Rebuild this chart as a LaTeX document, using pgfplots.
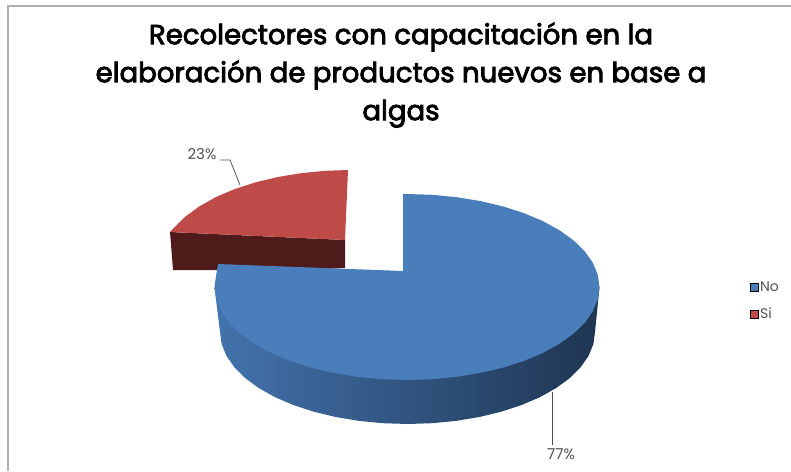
\documentclass[border=0pt]{standalone}
\usepackage{pgfplots}
\pgfplotsset{compat=1.18}
\usepackage{fontspec}
\setmainfont{Poppins}
\newfontfamily\titlefont[FakeBold=3]{Poppins}
\definecolor{noTop}{HTML}{4A7EBB}
\definecolor{noSideA}{HTML}{4373AD}
\definecolor{noSideB}{HTML}{2B4C74}
\definecolor{noSideC}{HTML}{1F3552}
\definecolor{siTop}{HTML}{BE4B48}
\definecolor{siSide}{HTML}{4E1B1A}
\definecolor{frame}{HTML}{B0B0B0}
\definecolor{lbl}{HTML}{505050}
\begin{document}
\begin{tikzpicture}
\begin{axis}[
  name=chart,
  scale only axis, width=791pt, height=471pt,
  xmin=0, xmax=791, ymin=0, ymax=471, y dir=reverse,
  hide axis, clip=true,
  legend image code/.code={\fill[#1] (0pt,-4pt) rectangle (8pt,4pt);},
  legend style={draw=none, fill=none, at={(axis cs:750,280)}, anchor=north west,
    font=\fontsize{14}{16}\selectfont\color{lbl}, row sep=12pt, inner sep=0pt,
    nodes={inner sep=1.5pt}},
  legend cell align=left,
]
% chart frame
\addplot[frame, line width=2.5pt, forget plot] coordinates {(8,471) (8,6) (791,6)};

% Si slice: front wall, then top face
\addplot[draw=none, fill=siSide, forget plot] coordinates
  {(170,232) (345,240) (345,268) (300,270) (173,270)} -- cycle;
\addplot[draw=none, fill=siTop, forget plot] coordinates
  {(348,170) (325.2,170.8) (300.8,173.2) (277.3,177.1) (255,182.5) (234.3,189.2)
   (215.7,197.2) (199.3,206.4) (185.5,216.5) (174.5,227.4) (170,232) (345,240)} -- cycle;

% No slice: rim, then top face
\addplot[draw=none, left color=noSideA, middle color=noSideB, right color=noSideC, forget plot] coordinates
  {(599.5,287) (595,332) (593.4,344) (588.6,355.8) (580.7,367.2) (569.9,378) (556.3,388)
   (540.1,397.1) (521.7,405) (501.3,411.7) (479.3,417) (456,420.9) (432,423.2) (407.5,424)
   (383,423.2) (359,420.9) (335.7,417) (313.7,411.7) (293.3,405) (274.9,397.1) (258.7,388)
   (245.1,378) (234.3,367.2) (226.4,355.8) (221.6,344) (220,332) (214.5,287)} -- cycle;
\addplot[draw=none, fill=noTop, forget plot] coordinates
  {(403,194) (407,194) (432.1,194.8) (456.8,197.2) (480.7,201.1) (503.3,206.5) (524.2,213.2)
   (543.1,221.2) (559.7,230.4) (573.7,240.5) (584.9,251.4) (592.9,262.9) (597.8,274.9)
   (599.5,287) (597.8,299.1) (592.9,311.1) (584.9,322.6) (573.7,333.5) (559.7,343.6)
   (543.1,352.8) (524.2,360.8) (503.3,367.5) (480.7,372.9) (456.8,376.8) (432.1,379.2)
   (407,380) (381.9,379.2) (357.2,376.8) (333.3,372.9) (310.7,367.5) (289.8,360.8)
   (270.9,352.8) (254.3,343.6) (240.3,333.5) (229.1,322.6) (221.1,311.1) (216.2,299.1)
   (214.5,287) (216.2,274.9) (218,264) (403,271)} -- cycle;

% leader lines
\addplot[lbl, line width=0.8pt, forget plot] coordinates {(240,185) (230,160) (220,160)};
\addplot[lbl, line width=0.8pt, forget plot] coordinates {(552,392) (552,445)};

\addlegendimage{fill=noTop}
\addlegendentry{No}
\addlegendimage{fill=siTop}
\addlegendentry{Si}

\node[font=\fontsize{15}{17}\selectfont, text=lbl] at (axis cs:202,154) {23\%};
\node[font=\fontsize{15}{17}\selectfont, text=lbl] at (axis cs:561,454) {77\%};
\node[font=\fontsize{27.6}{38}\selectfont\titlefont, align=center, text=black, anchor=center]
  at (axis cs:401,75) {Recolectores con capacitación en la\\elaboración de productos nuevos en base a\\algas};
\end{axis}
\pgfresetboundingbox
\path[use as bounding box] (chart.south west) rectangle (chart.north east);
\end{tikzpicture}
\end{document}
